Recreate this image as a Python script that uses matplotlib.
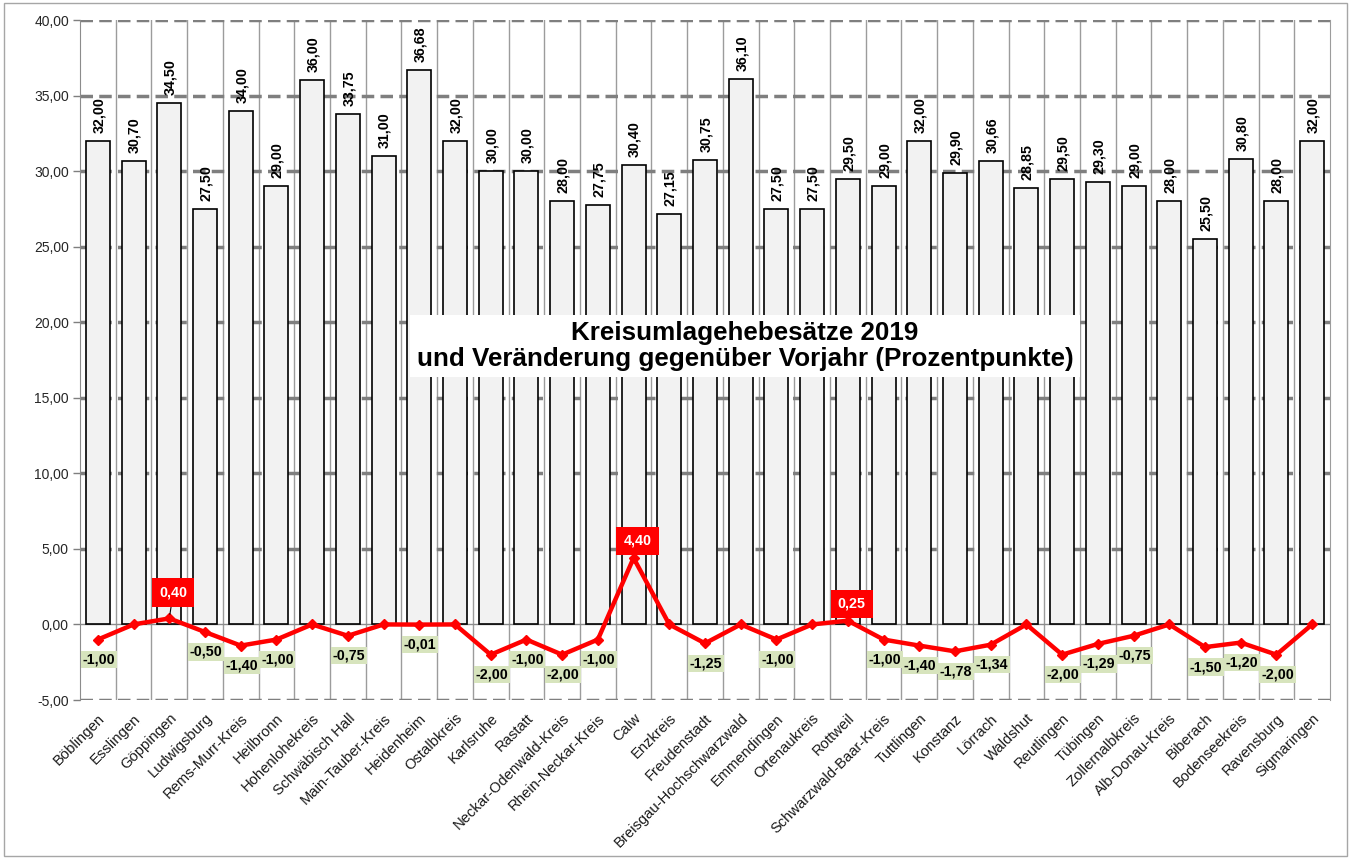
import matplotlib
matplotlib.use("Agg")
import matplotlib.pyplot as plt
import numpy as np
from matplotlib.patches import Rectangle

# Landkreise in Baden-Württemberg
kreise = [
    "Böblingen", "Esslingen", "Göppingen", "Ludwigsburg", "Rems-Murr-Kreis",
    "Heilbronn", "Hohenlohekreis", "Schwäbisch Hall", "Main-Tauber-Kreis",
    "Heidenheim", "Ostalbkreis", "Karlsruhe", "Rastatt", "Neckar-Odenwald-Kreis",
    "Rhein-Neckar-Kreis", "Calw", "Enzkreis", "Freudenstadt",
    "Breisgau-Hochschwarzwald", "Emmendingen", "Ortenaukreis", "Rottweil",
    "Schwarzwald-Baar-Kreis", "Tuttlingen", "Konstanz", "Lörrach", "Waldshut",
    "Reutlingen", "Tübingen", "Zollernalbkreis", "Alb-Donau-Kreis", "Biberach",
    "Bodenseekreis", "Ravensburg", "Sigmaringen",
]

# Kreisumlagehebesatz 2019 (Prozent)
hebesatz_2019 = [
    32.00, 30.70, 34.50, 27.50, 34.00,
    29.00, 36.00, 33.75, 31.00,
    36.68, 32.00, 30.00, 30.00, 28.00,
    27.75, 30.40, 27.15, 30.75,
    36.10, 27.50, 27.50, 29.50,
    29.00, 32.00, 29.90, 30.66, 28.85,
    29.50, 29.30, 29.00, 28.00, 25.50,
    30.80, 28.00, 32.00,
]

# Veränderung gegenüber Vorjahr (Prozentpunkte)
veraenderung = [
    -1.00, 0.00, 0.40, -0.50, -1.40,
    -1.00, 0.00, -0.75, 0.00,
    -0.01, 0.00, -2.00, -1.00, -2.00,
    -1.00, 4.40, 0.00, -1.25,
    0.00, -1.00, 0.00, 0.25,
    -1.00, -1.40, -1.78, -1.34, 0.00,
    -2.00, -1.29, -0.75, 0.00, -1.50,
    -1.20, -2.00, 0.00,
]

y_ticks = [-5, 0, 5, 10, 15, 20, 25, 30, 35, 40]

titel = "Kreisumlagehebesätze 2019\nund Veränderung gegenüber Vorjahr (Prozentpunkte)"

plt.rcParams["font.family"] = ["Liberation Sans", "DejaVu Sans"]
plt.rcParams["lines.scale_dashes"] = False


def de(v):
    return f"{v:.2f}".replace(".", ",")


W, H = 1353, 858
fig = plt.figure(figsize=(W / 100, H / 100), dpi=100)
fig.patch.set_facecolor("white")
ax = fig.add_axes([80 / W, 1 - 700 / H, 1250 / W, 680 / H])

x = np.arange(len(kreise))
ax.set_xlim(-0.5, len(kreise) - 0.5)
ax.set_ylim(min(y_ticks), max(y_ticks))

# horizontal dashed grid, vertical separators between categories
for yv in y_ticks:
    if yv == 0:
        continue
    ax.axhline(yv, color="#7f7f7f", lw=2.5, ls=(0, (9, 4.5)), zorder=1)
for b in np.arange(0.5, len(kreise) - 0.5, 1):
    ax.axvline(b, color="#9c9c9c", lw=1.0, zorder=0.5)
ax.axhline(0, color="#8c8c8c", lw=1.0, zorder=1.5)

# bars
ax.bar(x, hebesatz_2019, width=0.67, color="#f2f2f2", edgecolor="black",
       linewidth=1.2, zorder=2)
for xi, v in zip(x, hebesatz_2019):
    ax.annotate(de(v), (xi, v), xytext=(1, 8), textcoords="offset pixels",
                rotation=90, ha="center", va="bottom", fontsize=10.3,
                fontweight="bold", color="black", zorder=3)

# change line
ax.plot(x, veraenderung, color="#ff0000", lw=3.2, marker="D", ms=5,
        markeredgecolor="#ff0000", zorder=4)

lift = {"Göppingen": 26}
for name, xi, v in zip(kreise, x, veraenderung):
    if v == 0:
        continue
    if v > 0:
        dy = lift.get(name, 17)
        ap = None
        if name in lift:
            ap = dict(arrowstyle="-", color="black", lw=0.8, shrinkA=0, shrinkB=3)
        ax.annotate(de(v), (xi, v), xytext=(4, dy), textcoords="offset pixels",
                    ha="center", va="center", fontsize=10.3, fontweight="bold",
                    color="white", zorder=6, arrowprops=ap,
                    bbox=dict(boxstyle="square,pad=0.5", fc="#ff0000", ec="none"))
    else:
        ax.annotate(de(v), (xi, v), xytext=(1, -20), textcoords="offset pixels",
                    ha="center", va="center", fontsize=10.3, fontweight="bold",
                    color="black", zorder=6,
                    bbox=dict(boxstyle="square,pad=0.12", fc="#d7e4bd", ec="none"))

# axes styling
ax.set_yticks(y_ticks)
ax.set_yticklabels([de(t) for t in y_ticks], fontsize=10, color="#262626")
ax.tick_params(axis="y", length=5, width=1, color="#7f7f7f", pad=3)
ax.set_xticks(x)
ax.set_xticklabels(kreise, rotation=45, ha="right", rotation_mode="anchor",
                   fontsize=10.6, color="#1a1a1a")
ax.tick_params(axis="x", length=0, pad=8)
for s in ("top", "bottom"):
    ax.spines[s].set_visible(False)
ax.spines["left"].set_color("#8c8c8c")
ax.spines["right"].set_color("#9c9c9c")
ax.set_facecolor("none")

# title box
fig.text(745 / W, 1 - 346 / H, titel, ha="center", va="center", fontsize=18.7,
         fontweight="bold", linespacing=1.08, color="black", zorder=10,
         bbox=dict(boxstyle="square,pad=0.25", fc="white", ec="none"))

# outer frame
fig.add_artist(Rectangle((4 / W, 2 / H), 1343 / W, 853 / H, transform=fig.transFigure,
                         fill=False, ec="#a6a6a6", lw=1.0))

fig.savefig("out.png", dpi=100, facecolor="white")
